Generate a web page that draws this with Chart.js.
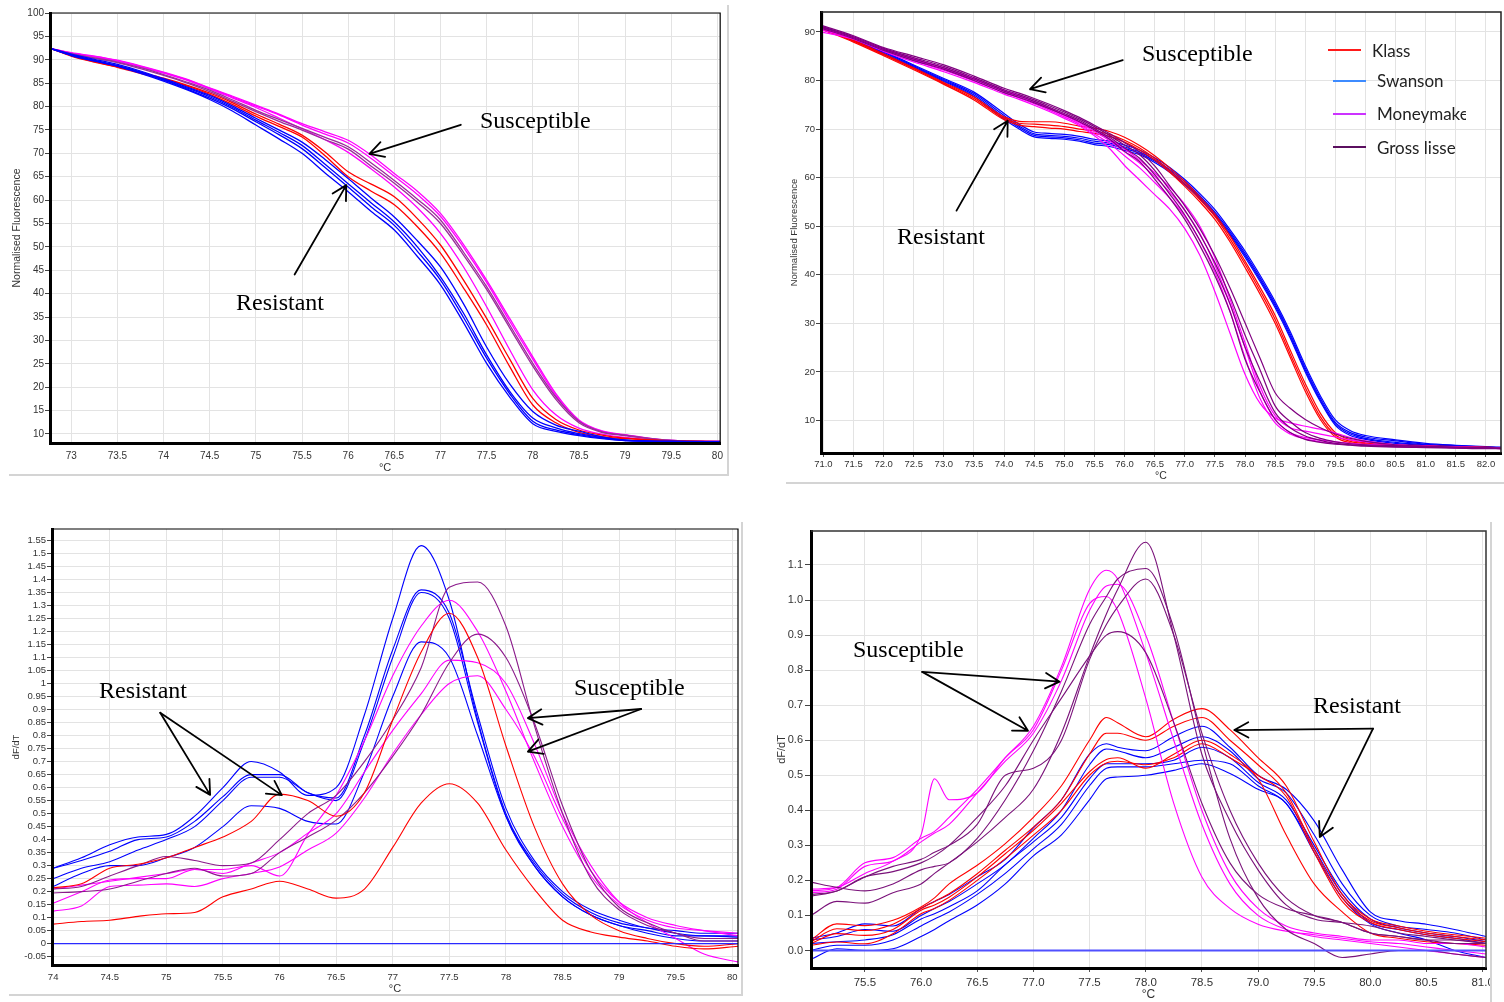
<!DOCTYPE html>
<html>
<head>
<meta charset="utf-8">
<script src="https://cdn.jsdelivr.net/npm/chart.js@4.4.1/dist/chart.umd.min.js"></script>
<style>
  body { margin: 0; background: #fff; width: 1504px; height: 1002px; position: relative; overflow: hidden; }
  .panel { position: absolute; overflow: hidden; }
  .panel canvas { position: absolute; left: 0; top: 0; }
  .rule { position: absolute; background: #d4d4d4; }
  .note { position: absolute; font-family: 'Liberation Serif', 'Times New Roman', serif; font-size: 24px; line-height: 24px; color: #000; white-space: nowrap; }
  #legend { position: absolute; left: 1320px; top: 36px; width: 146px; height: 130px; overflow: hidden; font-family: Lato, 'Open Sans', sans-serif; font-size: 17px; line-height: 20px; color: #222; }
  #legend .ln { position: absolute; height: 2px; width: 33px; }
  #legend .tx { position: absolute; white-space: nowrap; }
</style>
</head>
<body>

<div class="panel" style="left:0;top:0;width:730px;height:478px"><canvas id="c1" width="730" height="478"></canvas></div>
<div class="panel" style="left:786px;top:0;width:718px;height:484px"><canvas id="c2" width="718" height="484"></canvas></div>
<div class="panel" style="left:0;top:520px;width:745px;height:480px"><canvas id="c3" width="745" height="480"></canvas></div>
<div class="panel" style="left:770px;top:520px;width:722px;height:482px"><canvas id="c4" width="734" height="482"></canvas></div>

<div class="rule" style="left:727px;top:5px;width:2px;height:471px"></div>
<div class="rule" style="left:9px;top:474px;width:720px;height:2px"></div>
<div class="rule" style="left:786px;top:482px;width:718px;height:2px"></div>
<div class="rule" style="left:9px;top:994px;width:734px;height:2px"></div>
<div class="rule" style="left:741px;top:522px;width:2px;height:474px"></div>
<div class="rule" style="left:1490px;top:522px;width:2px;height:480px"></div>

<div class="note" style="left:480px;top:108px">Susceptible</div>
<div class="note" style="left:236px;top:290px">Resistant</div>
<div class="note" style="left:1142px;top:41px">Susceptible</div>
<div class="note" style="left:897px;top:224px">Resistant</div>
<div class="note" style="left:99px;top:678px">Resistant</div>
<div class="note" style="left:574px;top:675px">Susceptible</div>
<div class="note" style="left:853px;top:637px">Susceptible</div>
<div class="note" style="left:1313px;top:693px">Resistant</div>

<div id="legend">
  <div class="ln" style="left:8px;top:13px;background:#ff1a1a"></div><div class="tx" style="left:52px;top:5px">Klass</div>
  <div class="ln" style="left:13px;top:44px;background:#3d8bff"></div><div class="tx" style="left:57px;top:35px">Swanson</div>
  <div class="ln" style="left:13px;top:77px;background:#cc33ff"></div><div class="tx" style="left:57px;top:68px">Moneymaker</div>
  <div class="ln" style="left:13px;top:110px;background:#5b0f5f"></div><div class="tx" style="left:57px;top:102px">Gross lisse</div>
</div>

<script>
// ---------- panel 1 (top left): normalised melt curves ----------
const p1X = [72.78, 73, 73.25, 73.5, 73.75, 74, 74.25, 74.5, 74.75, 75, 75.25, 75.5, 75.75, 76, 76.25, 76.5, 76.75, 77, 77.25, 77.5, 77.75, 78, 78.25, 78.5, 78.75, 79, 79.5, 80.03];
const p1Blue1 = [92.4, 91.2, 90.1, 89.0, 87.6, 85.95, 84.2, 82.4, 80.1, 77.5, 75.0, 72.4, 68.7, 64.6, 60.4, 56.4, 51.3, 45.7, 37.8, 28.6, 20.7, 14.8, 11.9, 10.6, 9.4, 8.7, 8.4, 8.35];
const p1Blue2 = [92.4, 91.1, 89.9, 88.8, 87.4, 85.75, 84.0, 82.1, 79.8, 77.1, 74.5, 71.7, 67.65, 63.5, 59.4, 55.3, 50.0, 43.6, 35.8, 26.9, 19.1, 13.4, 11.3, 10.05, 9.2, 8.7, 8.4, 8.35];
const p1Blue3 = [92.4, 91.0, 89.8, 88.7, 87.3, 85.65, 83.8, 81.8, 79.5, 76.75, 74.0, 71.0, 66.95, 62.8, 58.55, 54.6, 49.05, 42.9, 34.9, 26.2, 18.6, 12.7, 10.85, 9.85, 9.1, 8.6, 8.4, 8.3];
const p1Blue4 = [92.4, 90.9, 89.7, 88.6, 87.1, 85.45, 83.6, 81.5, 79.0, 76.05, 73.1, 70.0, 65.8, 61.8, 57.55, 53.6, 47.95, 41.9, 33.8, 25.1, 17.9, 12.2, 10.55, 9.65, 9.0, 8.6, 8.4, 8.3];
const p1Red1 = [92.4, 90.9, 89.6, 88.5, 87.3, 86.05, 84.6, 82.9, 80.8, 78.4, 76.25, 73.9, 70.3, 66.05, 63.4, 60.7, 56.05, 50.4, 42.9, 34.7, 26.0, 17.6, 13.1, 10.85, 9.75, 9.1, 8.5, 8.35];
const p1Red2 = [92.4, 90.8, 89.5, 88.4, 87.1, 85.85, 84.4, 82.6, 80.4, 77.95, 75.75, 73.5, 69.5, 65.0, 61.9, 59.0, 54.3, 48.65, 41.2, 33.3, 24.4, 16.2, 12.4, 10.35, 9.45, 9.0, 8.5, 8.35];
const p1Purple1 = [92.4, 91.3, 90.4, 89.5, 88.3, 86.85, 85.25, 83.5, 81.4, 79.2, 77.25, 75.35, 73.4, 71.4, 67.95, 64.2, 60.2, 55.75, 48.85, 41.5, 33.3, 25.1, 17.9, 12.7, 10.45, 9.75, 8.6, 8.4];
const p1Purple2 = [92.4, 91.2, 90.3, 89.4, 88.1, 86.65, 85.05, 83.2, 81.1, 78.9, 76.85, 74.95, 72.9, 70.9, 67.25, 63.6, 59.55, 55.0, 48.25, 40.9, 32.7, 24.5, 17.4, 12.4, 10.35, 9.65, 8.6, 8.4];
const p1Magenta1 = [92.4, 91.5, 90.8, 89.9, 88.7, 87.35, 85.85, 84.0, 82.2, 80.3, 78.4, 76.35, 74.6, 72.8, 69.6, 65.7, 61.9, 57.15, 50.5, 42.9, 34.7, 26.5, 18.6, 13.0, 10.65, 9.85, 8.6, 8.4];
const p1Magenta2 = [92.4, 91.4, 90.7, 89.8, 88.6, 87.25, 85.75, 83.9, 82.0, 80.1, 78.2, 76.05, 74.1, 72.2, 68.9, 65.1, 61.2, 56.55, 49.9, 42.4, 34.1, 26.0, 18.2, 12.8, 10.55, 9.75, 8.6, 8.4];
const p1Magenta3 = [92.4, 91.4, 90.6, 89.7, 88.5, 87.15, 85.65, 83.8, 81.8, 79.8, 77.55, 75.25, 72.9, 70.2, 66.65, 62.8, 58.35, 52.9, 45.7, 37.2, 28.0, 19.45, 14.1, 11.25, 9.95, 9.25, 8.5, 8.4];
const p1XTicks = [73, 73.5, 74, 74.5, 75, 75.5, 76, 76.5, 77, 77.5, 78, 78.5, 79, 79.5, 80];
const p1YTicks = [10, 15, 20, 25, 30, 35, 40, 45, 50, 55, 60, 65, 70, 75, 80, 85, 90, 95, 100];
const p1Arrows = [[77.22, 76.1, 76.23, 69.9], [75.42, 44.1, 75.98, 63.2]];

// ---------- panel 2 (top right): normalised melt curves by cultivar ----------
const p2X = [70.96, 71.5, 72, 72.5, 73, 73.5, 74, 74.25, 74.5, 74.75, 75, 75.25, 75.5, 75.75, 76, 76.25, 76.5, 76.75, 77, 77.25, 77.5, 77.75, 78, 78.25, 78.5, 78.75, 79, 79.25, 79.5, 79.75, 80, 80.5, 81, 81.5, 82, 82.25];
const p2Klass1 = [91.0, 88.3, 85.5, 82.6, 79.6, 76.6, 72.5, 71.6, 71.5, 71.5, 71.2, 70.6, 70.2, 69.5, 68.3, 66.6, 64.5, 62.0, 59.2, 56.0, 52.5, 48.0, 42.8, 37.4, 31.6, 24.5, 17.6, 11.5, 7.5, 6.0, 5.4, 5.0, 4.8, 4.6, 4.5, 4.4];
const p2Klass2 = [90.8, 88.1, 85.3, 82.4, 79.4, 76.3, 72.2, 71.2, 71.0, 70.8, 70.5, 70.0, 69.6, 68.9, 67.7, 66.1, 64.0, 61.5, 58.7, 55.5, 52.0, 47.4, 42.2, 36.7, 30.8, 23.7, 16.8, 10.8, 7.0, 5.7, 5.2, 4.9, 4.7, 4.5, 4.4, 4.4];
const p2Klass3 = [90.6, 87.9, 85.1, 82.2, 79.2, 76.0, 71.9, 70.8, 70.5, 70.2, 70.0, 69.5, 69.1, 68.5, 67.3, 65.7, 63.6, 61.1, 58.2, 55.0, 51.4, 46.8, 41.5, 36.0, 30.0, 23.0, 16.0, 10.2, 6.6, 5.4, 5.0, 4.8, 4.6, 4.5, 4.4, 4.3];
const p2Swanson1 = [91.2, 88.7, 86.0, 83.2, 80.4, 77.6, 73.2, 71.0, 69.4, 69.1, 68.9, 68.5, 67.9, 67.5, 66.7, 65.7, 64.1, 62.1, 59.6, 56.7, 53.4, 49.3, 44.9, 39.9, 34.5, 28.3, 21.3, 15.1, 10.1, 7.9, 6.9, 6.0, 5.3, 4.9, 4.6, 4.5];
const p2Swanson2 = [91.0, 88.5, 85.8, 83.0, 80.2, 77.3, 72.8, 70.6, 69.0, 68.7, 68.5, 68.1, 67.5, 67.1, 66.3, 65.3, 63.7, 61.7, 59.2, 56.3, 52.9, 48.9, 44.4, 39.4, 34.0, 27.8, 20.8, 14.6, 9.6, 7.5, 6.6, 5.8, 5.1, 4.8, 4.5, 4.4];
const p2Swanson3 = [90.8, 88.4, 85.6, 82.8, 80.0, 77.0, 72.4, 70.3, 68.7, 68.4, 68.2, 67.8, 67.1, 66.8, 66.0, 65.0, 63.4, 61.4, 58.8, 55.9, 52.6, 48.5, 44.0, 39.0, 33.6, 27.4, 20.4, 14.2, 9.3, 7.2, 6.3, 5.5, 5.0, 4.7, 4.5, 4.4];
const p2Swanson4 = [90.6, 88.2, 85.4, 82.6, 79.8, 76.7, 72.0, 70.0, 68.4, 68.1, 67.9, 67.5, 66.8, 66.4, 65.6, 64.7, 63.1, 61.1, 58.5, 55.6, 52.2, 48.2, 43.6, 38.6, 33.2, 27.0, 20.0, 13.9, 9.0, 6.9, 6.1, 5.3, 4.9, 4.6, 4.4, 4.3];
const p2Money1 = [90.0, 88.5, 86.0, 83.8, 81.8, 79.6, 77.2, 76.1, 74.9, 73.6, 72.2, 70.7, 68.6, 66.0, 62.5, 59.5, 56.5, 53.5, 49.5, 44.0, 36.5, 28.0, 19.5, 13.5, 10.5, 9.5, 8.8, 8.2, 7.4, 6.5, 5.8, 5.0, 4.7, 4.5, 4.4, 4.3];
const p2Money2 = [90.4, 88.7, 86.3, 84.1, 82.1, 79.9, 77.5, 76.4, 75.2, 73.9, 72.5, 71.0, 69.0, 67.0, 64.5, 62.0, 59.0, 55.8, 52.0, 47.0, 40.5, 32.5, 23.0, 14.5, 9.5, 7.2, 6.2, 5.6, 5.2, 5.0, 4.9, 4.7, 4.5, 4.4, 4.3, 4.2];
const p2Money3 = [90.6, 88.9, 86.5, 84.3, 82.4, 80.2, 77.8, 76.7, 75.5, 74.2, 72.8, 71.3, 69.5, 67.6, 65.3, 63.0, 60.2, 57.0, 53.2, 48.5, 42.0, 34.0, 25.0, 16.0, 10.2, 7.5, 6.5, 6.0, 5.6, 5.3, 5.1, 4.8, 4.6, 4.4, 4.3, 4.2];
const p2Money4 = [90.8, 89.0, 86.6, 84.5, 82.6, 80.4, 78.0, 76.9, 75.7, 74.4, 73.0, 71.5, 70.0, 68.0, 65.9, 63.6, 61.0, 58.0, 54.5, 50.0, 43.5, 35.0, 26.0, 17.0, 11.0, 8.5, 7.8, 7.2, 6.6, 6.0, 5.6, 5.0, 4.7, 4.5, 4.4, 4.3];
const p2Gross1 = [91.4, 89.2, 86.8, 85.0, 83.2, 80.9, 78.4, 77.4, 76.3, 75.1, 73.8, 72.4, 70.8, 69.1, 67.2, 65.3, 62.4, 58.3, 54.2, 49.5, 43.9, 37.3, 30.1, 22.8, 15.7, 12.5, 10.2, 8.5, 7.2, 6.3, 5.7, 5.0, 4.7, 4.5, 4.4, 4.3];
const p2Gross2 = [91.2, 89.0, 86.6, 84.7, 82.9, 80.6, 78.1, 77.1, 76.0, 74.8, 73.5, 72.1, 70.5, 68.7, 66.7, 64.7, 61.5, 57.5, 53.3, 48.3, 42.5, 35.6, 27.6, 20.4, 13.0, 9.8, 7.5, 6.3, 5.6, 5.2, 5.0, 4.8, 4.6, 4.4, 4.3, 4.3];
const p2Gross3 = [91.0, 88.8, 86.4, 84.4, 82.6, 80.3, 77.8, 76.8, 75.7, 74.5, 73.2, 71.8, 70.1, 68.3, 66.1, 64.0, 60.6, 56.6, 52.3, 47.1, 41.1, 34.0, 25.1, 18.0, 11.6, 8.5, 6.8, 5.9, 5.3, 5.0, 4.8, 4.6, 4.5, 4.4, 4.3, 4.2];
const p2Gross4 = [90.8, 88.6, 86.2, 84.1, 82.3, 80.0, 77.5, 76.5, 75.4, 74.2, 72.9, 71.5, 69.8, 67.9, 65.4, 63.3, 59.7, 55.8, 51.4, 46.0, 39.8, 32.4, 22.6, 15.8, 10.2, 7.5, 6.1, 5.5, 5.1, 4.9, 4.7, 4.5, 4.4, 4.3, 4.2, 4.2];
const p2XTicks = [71, 71.5, 72, 72.5, 73, 73.5, 74, 74.5, 75, 75.5, 76, 76.5, 77, 77.5, 78, 78.5, 79, 79.5, 80, 80.5, 81, 81.5, 82];
const p2YTicks = [10, 20, 30, 40, 50, 60, 70, 80, 90];
const p2Arrows = [[75.97, 84.2, 74.43, 78.2], [73.21, 53.2, 74.06, 71.7]];

// ---------- panel 3 (bottom left): derivative curves ----------
const p3X = [74, 74.25, 74.5, 74.75, 75, 75.25, 75.5, 75.75, 76, 76.25, 76.5, 76.75, 77, 77.25, 77.5, 77.75, 78, 78.25, 78.5, 78.75, 79, 79.25, 79.5, 79.75, 80.05];
const p3Blue1 = [0.29, 0.33, 0.38, 0.41, 0.42, 0.49, 0.60, 0.70, 0.66, 0.57, 0.60, 0.88, 1.25, 1.53, 1.32, 0.86, 0.50, 0.31, 0.19, 0.12, 0.08, 0.06, 0.04, 0.03, 0.03];
const p3Blue2 = [0.29, 0.32, 0.355, 0.40, 0.41, 0.47, 0.565, 0.65, 0.65, 0.58, 0.56, 0.80, 1.13, 1.36, 1.27, 0.88, 0.52, 0.32, 0.20, 0.13, 0.09, 0.06, 0.05, 0.04, 0.04];
const p3Blue3 = [0.25, 0.29, 0.315, 0.36, 0.40, 0.45, 0.55, 0.64, 0.64, 0.58, 0.55, 0.78, 1.10, 1.35, 1.25, 0.85, 0.49, 0.30, 0.18, 0.11, 0.07, 0.04, 0.02, 0.01, 0.01];
const p3Blue4 = [0.22, 0.27, 0.30, 0.30, 0.33, 0.37, 0.45, 0.53, 0.52, 0.47, 0.46, 0.66, 0.95, 1.16, 1.10, 0.80, 0.49, 0.30, 0.18, 0.11, 0.07, 0.05, 0.03, 0.03, 0.025];
const p3Red1 = [0.215, 0.23, 0.29, 0.305, 0.33, 0.37, 0.41, 0.47, 0.575, 0.55, 0.49, 0.58, 0.86, 1.12, 1.27, 1.10, 0.76, 0.45, 0.23, 0.11, 0.05, 0.02, 0.00, -0.01, 0.00];
const p3Red2 = [0.075, 0.085, 0.09, 0.105, 0.115, 0.12, 0.18, 0.21, 0.24, 0.21, 0.175, 0.21, 0.37, 0.54, 0.615, 0.54, 0.36, 0.21, 0.09, 0.045, 0.025, 0.01, -0.01, -0.02, -0.01];
const p3Purple1 = [0.21, 0.22, 0.26, 0.30, 0.335, 0.32, 0.30, 0.31, 0.40, 0.50, 0.57, 0.70, 0.86, 1.06, 1.37, 1.39, 1.22, 0.84, 0.50, 0.25, 0.13, 0.07, 0.04, 0.01, 0.01];
const p3Purple2 = [0.195, 0.20, 0.21, 0.24, 0.27, 0.29, 0.26, 0.27, 0.35, 0.41, 0.475, 0.58, 0.72, 0.88, 1.08, 1.19, 1.10, 0.85, 0.53, 0.28, 0.14, 0.08, 0.04, 0.02, 0.02];
const p3Magenta1 = [0.21, 0.225, 0.24, 0.255, 0.27, 0.285, 0.285, 0.30, 0.26, 0.42, 0.57, 0.78, 1.03, 1.22, 1.32, 1.20, 0.97, 0.70, 0.45, 0.26, 0.15, 0.09, 0.06, 0.05, 0.04];
const p3Magenta2 = [0.155, 0.20, 0.245, 0.25, 0.25, 0.285, 0.27, 0.31, 0.35, 0.425, 0.50, 0.66, 0.82, 0.96, 1.09, 1.08, 1.00, 0.77, 0.50, 0.30, 0.16, 0.08, 0.02, -0.04, -0.07];
const p3Magenta3 = [0.125, 0.145, 0.22, 0.225, 0.23, 0.22, 0.25, 0.27, 0.295, 0.36, 0.425, 0.56, 0.73, 0.88, 1.00, 1.03, 0.90, 0.72, 0.48, 0.28, 0.16, 0.10, 0.07, 0.05, 0.03];
const p3BaseX = [73.99, 80.05];
const p3Base = [0, 0];
const p3XTicks = [74, 74.5, 75, 75.5, 76, 76.5, 77, 77.5, 78, 78.5, 79, 79.5, 80];
const p3YTicks = [-0.05, 0, 0.05, 0.1, 0.15, 0.2, 0.25, 0.3, 0.35, 0.4, 0.45, 0.5, 0.55, 0.6, 0.65, 0.7, 0.75, 0.8, 0.85, 0.9, 0.95, 1, 1.05, 1.1, 1.15, 1.2, 1.25, 1.3, 1.35, 1.4, 1.45, 1.5, 1.55];
const p3Arrows = [[74.946, 0.888, 75.387, 0.572], [74.946, 0.888, 76.02, 0.571], [79.194, 0.902, 78.194, 0.867], [79.194, 0.902, 78.194, 0.738]];

// ---------- panel 4 (bottom right): derivative curves ----------
const p4X = [75.02, 75.25, 75.5, 75.75, 76, 76.12, 76.25, 76.5, 76.75, 77, 77.25, 77.5, 77.65, 77.75, 78, 78.25, 78.5, 78.75, 79, 79.25, 79.5, 79.75, 80, 80.25, 80.5, 80.75, 81.03];
const p4Red1 = [0.03, 0.076, 0.071, 0.086, 0.124, 0.15, 0.19, 0.243, 0.305, 0.38, 0.47, 0.60, 0.665, 0.65, 0.61, 0.66, 0.69, 0.63, 0.55, 0.47, 0.31, 0.16, 0.09, 0.07, 0.055, 0.045, 0.035];
const p4Red2 = [0.025, 0.062, 0.057, 0.075, 0.12, 0.14, 0.162, 0.219, 0.286, 0.352, 0.43, 0.56, 0.62, 0.62, 0.60, 0.64, 0.665, 0.60, 0.53, 0.45, 0.29, 0.15, 0.085, 0.065, 0.05, 0.04, 0.03];
const p4Red3 = [0.02, 0.048, 0.043, 0.06, 0.115, 0.13, 0.152, 0.21, 0.276, 0.343, 0.42, 0.51, 0.545, 0.55, 0.52, 0.56, 0.60, 0.56, 0.49, 0.33, 0.19, 0.11, 0.05, 0.035, 0.025, 0.02, 0.015];
const p4Red4 = [0.015, 0.024, 0.019, 0.048, 0.105, 0.12, 0.143, 0.20, 0.262, 0.329, 0.40, 0.50, 0.535, 0.54, 0.53, 0.55, 0.59, 0.55, 0.50, 0.44, 0.28, 0.14, 0.08, 0.06, 0.045, 0.035, 0.025];
const p4Blue1 = [0.035, 0.05, 0.076, 0.07, 0.12, 0.14, 0.16, 0.21, 0.26, 0.35, 0.43, 0.56, 0.59, 0.58, 0.57, 0.61, 0.64, 0.58, 0.50, 0.46, 0.37, 0.23, 0.11, 0.085, 0.075, 0.06, 0.04];
const p4Blue2 = [0.03, 0.04, 0.06, 0.055, 0.10, 0.12, 0.14, 0.19, 0.245, 0.32, 0.40, 0.53, 0.575, 0.57, 0.55, 0.58, 0.61, 0.57, 0.49, 0.45, 0.33, 0.19, 0.10, 0.07, 0.06, 0.05, 0.03];
const p4Blue3 = [0.02, 0.025, 0.03, 0.045, 0.09, 0.105, 0.125, 0.17, 0.245, 0.31, 0.38, 0.49, 0.533, 0.533, 0.533, 0.543, 0.58, 0.55, 0.48, 0.43, 0.30, 0.17, 0.09, 0.065, 0.05, 0.04, 0.025];
const p4Blue4 = [0.0, 0.015, 0.015, 0.03, 0.07, 0.09, 0.11, 0.16, 0.22, 0.29, 0.36, 0.47, 0.52, 0.524, 0.524, 0.533, 0.543, 0.533, 0.47, 0.42, 0.29, 0.16, 0.08, 0.06, 0.045, 0.035, 0.02];
const p4Blue5 = [-0.025, 0.005, 0.0, 0.005, 0.04, 0.06, 0.085, 0.13, 0.19, 0.27, 0.33, 0.43, 0.49, 0.495, 0.50, 0.514, 0.533, 0.505, 0.46, 0.42, 0.28, 0.15, 0.076, 0.05, 0.03, 0.0, -0.02];
const p4Magenta1 = [0.175, 0.18, 0.22, 0.255, 0.33, 0.49, 0.43, 0.45, 0.55, 0.63, 0.80, 0.99, 1.01, 0.97, 0.72, 0.42, 0.21, 0.12, 0.075, 0.055, 0.045, 0.035, 0.025, 0.02, 0.01, 0.0, -0.01];
const p4Magenta2 = [0.17, 0.18, 0.25, 0.265, 0.32, 0.34, 0.38, 0.46, 0.55, 0.64, 0.81, 1.03, 1.085, 1.06, 0.85, 0.60, 0.36, 0.19, 0.10, 0.06, 0.04, 0.03, 0.02, 0.01, 0.0, -0.01, -0.02];
const p4Magenta3 = [0.165, 0.175, 0.24, 0.255, 0.31, 0.335, 0.36, 0.45, 0.54, 0.62, 0.77, 0.97, 1.04, 1.045, 0.90, 0.65, 0.40, 0.22, 0.12, 0.07, 0.05, 0.04, 0.03, 0.03, 0.02, 0.02, 0.01];
const p4Purple1 = [0.10, 0.14, 0.135, 0.165, 0.19, 0.22, 0.25, 0.31, 0.38, 0.46, 0.62, 0.84, 0.96, 1.03, 1.165, 0.90, 0.56, 0.37, 0.23, 0.13, 0.09, 0.08, 0.07, 0.05, 0.04, 0.03, 0.02];
const p4Purple2 = [0.195, 0.18, 0.17, 0.19, 0.23, 0.24, 0.25, 0.32, 0.43, 0.57, 0.74, 0.93, 1.01, 1.06, 1.09, 0.92, 0.60, 0.32, 0.15, 0.06, 0.02, -0.02, -0.01, 0.0, 0.0, -0.01, -0.02];
const p4Purple3 = [0.16, 0.17, 0.21, 0.24, 0.26, 0.28, 0.30, 0.36, 0.50, 0.52, 0.60, 0.83, 0.93, 0.98, 1.06, 0.90, 0.62, 0.40, 0.25, 0.15, 0.10, 0.08, 0.05, 0.04, 0.03, 0.03, 0.02];
const p4Purple4 = [0.155, 0.17, 0.21, 0.225, 0.25, 0.27, 0.30, 0.38, 0.47, 0.60, 0.72, 0.84, 0.90, 0.91, 0.85, 0.65, 0.42, 0.25, 0.16, 0.12, 0.10, 0.08, 0.05, 0.04, 0.03, 0.02, 0.02];
const p4BaseX = [75.02, 81.03];
const p4Base = [0, 0];
const p4XTicks = [75.5, 76, 76.5, 77, 77.5, 78, 78.5, 79, 79.5, 80, 80.5, 81];
const p4YTicks = [0, 0.1, 0.2, 0.3, 0.4, 0.5, 0.6, 0.7, 0.8, 0.9, 1.0, 1.1];
const p4Arrows = [[76.01, 0.795, 77.233, 0.767], [76.01, 0.795, 76.952, 0.627], [80.024, 0.633, 78.789, 0.629], [80.024, 0.633, 79.55, 0.324]];

// ---------- drawing ----------
Chart.defaults.font.family = "'Liberation Sans', Arial, sans-serif";
Chart.defaults.color = '#333';

const RED = '#ff0000';
const BLUE = '#0000ff';
const MAGENTA = '#ff00ff';
const GRID = '#e3e3e3';

function lines(x, list, width) {
  return list.map(function(item) {
    const vals = item[0];
    return {
      data: x.map(function(xv, i) { return { x: xv, y: vals[i] }; }),
      borderColor: item[1],
      borderWidth: item[2] || width,
      pointRadius: 0,
      fill: false,
      cubicInterpolationMode: 'monotone'
    };
  });
}

const framePlugin = {
  id: 'frame',
  afterDraw(chart, args, opts) {
    const a = chart.chartArea;
    const ctx = chart.ctx;
    ctx.save();
    ctx.strokeStyle = opts.color;
    ctx.lineWidth = opts.width;
    ctx.beginPath();
    ctx.moveTo(a.left, a.top);
    ctx.lineTo(a.right, a.top);
    ctx.lineTo(a.right, a.bottom);
    ctx.stroke();
    ctx.restore();
  }
};

const arrowPlugin = {
  id: 'arrows',
  afterDatasetsDraw(chart, args, opts) {
    const ctx = chart.ctx;
    const xs = chart.scales.x, ys = chart.scales.y;
    ctx.save();
    ctx.strokeStyle = '#000';
    ctx.lineWidth = 1.8;
    ctx.lineCap = 'round';
    (opts.items || []).forEach(function(a) {
      const x0 = xs.getPixelForValue(a[0]), y0 = ys.getPixelForValue(a[1]);
      const x1 = xs.getPixelForValue(a[2]), y1 = ys.getPixelForValue(a[3]);
      const ang = Math.atan2(y1 - y0, x1 - x0);
      ctx.beginPath();
      ctx.moveTo(x0, y0);
      ctx.lineTo(x1, y1);
      [0.5, -0.5].forEach(function(d) {
        ctx.moveTo(x1, y1);
        ctx.lineTo(x1 - 16 * Math.cos(ang + d), y1 - 16 * Math.sin(ang + d));
      });
      ctx.stroke();
    });
    ctx.restore();
  }
};

function makeChart(id, c) {
  return new Chart(document.getElementById(id), {
    type: 'line',
    data: { datasets: c.datasets },
    plugins: [framePlugin, arrowPlugin],
    options: {
      responsive: false,
      devicePixelRatio: 1,
      animation: false,
      layout: { padding: { left: 0, top: c.top, right: c.right, bottom: 0 } },
      plugins: {
        legend: { display: false },
        tooltip: { enabled: false },
        frame: { color: c.frameColor, width: c.frameWidth },
        arrows: { items: c.arrows }
      },
      scales: {
        x: {
          type: 'linear',
          min: c.xMin,
          max: c.xMax,
          afterBuildTicks: function(s) { s.ticks = c.xTicks.map(function(v) { return { value: v }; }); },
          afterFit: function(s) { s.height = c.xHeight; },
          grid: { color: GRID, drawTicks: c.xTickLen > 0, tickLength: c.xTickLen, tickColor: '#555' },
          border: { color: '#000', width: 3, z: 1 },
          ticks: { autoSkip: false, maxRotation: 0, padding: c.xPad, font: { size: c.xFont }, color: '#333', callback: c.xFmt },
          title: { display: true, text: '°C', color: '#333', font: { size: c.xTitleFont }, padding: { top: 0, bottom: c.xTitlePad } }
        },
        y: {
          type: 'linear',
          min: c.yMin,
          max: c.yMax,
          afterBuildTicks: function(s) { s.ticks = c.yTicks.map(function(v) { return { value: v }; }); },
          afterFit: function(s) { s.width = c.yWidth; },
          grid: { color: GRID, drawTicks: true, tickLength: c.yTickLen, tickColor: '#444' },
          border: { color: '#000', width: 3, z: 1 },
          ticks: { autoSkip: false, padding: c.yPad, font: { size: c.yFont }, color: '#333', callback: c.yFmt },
          title: { display: true, text: c.yTitle, color: '#333', font: { size: c.yTitleFont }, padding: { top: c.yTitlePad, bottom: 0 } }
        }
      }
    }
  });
}

const P1PURPLE = '#9b2d9b';
makeChart('c1', {
  datasets: lines(p1X, [
    [p1Blue1, BLUE], [p1Blue2, BLUE], [p1Blue3, BLUE], [p1Blue4, BLUE],
    [p1Red1, RED], [p1Red2, RED],
    [p1Purple1, P1PURPLE], [p1Purple2, P1PURPLE],
    [p1Magenta3, MAGENTA], [p1Magenta2, MAGENTA], [p1Magenta1, MAGENTA]
  ], 1.3),
  arrows: p1Arrows,
  top: 13, right: 7, frameColor: '#000', frameWidth: 1.2,
  xMin: 72.77, xMax: 80.03, xTicks: p1XTicks, xHeight: 35, xTickLen: 0, xPad: 7, xFont: 10,
  xFmt: function(v) { return String(v); }, xTitleFont: 11, xTitlePad: 3,
  yMin: 8.07, yMax: 100, yTicks: p1YTicks, yWidth: 50, yTickLen: 5, yPad: 1, yFont: 10,
  yFmt: function(v) { return String(v); }, yTitle: 'Normalised Fluorescence', yTitleFont: 10.5, yTitlePad: 11
});

const P2PURPLE = '#800080';
makeChart('c2', {
  datasets: lines(p2X, [
    [p2Gross1, P2PURPLE], [p2Gross2, P2PURPLE], [p2Gross3, P2PURPLE], [p2Gross4, P2PURPLE],
    [p2Money1, MAGENTA], [p2Money2, MAGENTA], [p2Money3, MAGENTA], [p2Money4, MAGENTA],
    [p2Klass1, RED], [p2Klass2, RED], [p2Klass3, RED],
    [p2Swanson1, BLUE], [p2Swanson2, BLUE], [p2Swanson3, BLUE], [p2Swanson4, BLUE]
  ], 1.2),
  arrows: p2Arrows,
  top: 12, right: 3, frameColor: '#222', frameWidth: 1.5,
  xMin: 70.96, xMax: 82.25, xTicks: p2XTicks, xHeight: 31, xTickLen: 4, xPad: 2, xFont: 9.5,
  xFmt: function(v) { return v.toFixed(1); }, xTitleFont: 10.5, xTitlePad: 2,
  yMin: 3.3, yMax: 94.1, yTicks: p2YTicks, yWidth: 35, yTickLen: 5, yPad: 1, yFont: 9.5,
  yFmt: function(v) { return String(v); }, yTitle: 'Normalised Fluorescence', yTitleFont: 9.5, yTitlePad: 3
});

const P3PURPLE = '#8b1a8b';
makeChart('c3', {
  datasets: lines(p3BaseX, [[p3Base, '#2a2aff']], 1.2).concat(lines(p3X, [
    [p3Red2, RED], [p3Red1, RED],
    [p3Purple2, P3PURPLE], [p3Purple1, P3PURPLE],
    [p3Magenta3, MAGENTA], [p3Magenta2, MAGENTA], [p3Magenta1, MAGENTA],
    [p3Blue4, BLUE], [p3Blue3, BLUE], [p3Blue2, BLUE], [p3Blue1, BLUE]
  ], 1.1)),
  arrows: p3Arrows,
  top: 9, right: 7, frameColor: '#000', frameWidth: 1.2,
  xMin: 73.99, xMax: 80.05, xTicks: p3XTicks, xHeight: 35, xTickLen: 0, xPad: 7, xFont: 9.5,
  xFmt: function(v) { return String(v); }, xTitleFont: 11, xTitlePad: 4,
  yMin: -0.082, yMax: 1.594, yTicks: p3YTicks, yWidth: 52, yTickLen: 5, yPad: 1, yFont: 9.5,
  yFmt: function(v) { return String(+v.toFixed(2)); }, yTitle: 'dF/dT', yTitleFont: 9.5, yTitlePad: 11
});

const P4PURPLE = '#7a127a';
makeChart('c4', {
  datasets: lines(p4BaseX, [[p4Base, '#5050ff', 2]], 1.1).concat(lines(p4X, [
    [p4Purple1, P4PURPLE], [p4Purple2, P4PURPLE], [p4Purple3, P4PURPLE], [p4Purple4, P4PURPLE],
    [p4Magenta1, MAGENTA], [p4Magenta2, MAGENTA], [p4Magenta3, MAGENTA],
    [p4Red1, RED], [p4Red2, RED], [p4Red3, RED], [p4Red4, RED],
    [p4Blue1, BLUE], [p4Blue2, BLUE], [p4Blue3, BLUE], [p4Blue4, BLUE], [p4Blue5, BLUE]
  ], 1.1)),
  arrows: p4Arrows,
  top: 11, right: 18, frameColor: '#333', frameWidth: 1.5,
  xMin: 75.02, xMax: 81.03, xTicks: p4XTicks, xHeight: 34, xTickLen: 4, xPad: 4, xFont: 11.5,
  xFmt: function(v) { return v.toFixed(1); }, xTitleFont: 12, xTitlePad: 0,
  yMin: -0.05, yMax: 1.197, yTicks: p4YTicks, yWidth: 41, yTickLen: 6, yPad: 2, yFont: 11,
  yFmt: function(v) { return v.toFixed(1); }, yTitle: 'dF/dT', yTitleFont: 11, yTitlePad: 5
});
</script>
</body>
</html>
